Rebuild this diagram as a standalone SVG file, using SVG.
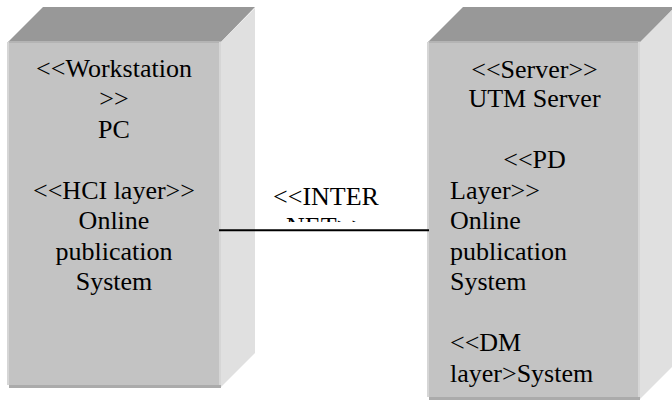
<svg xmlns="http://www.w3.org/2000/svg" width="672" height="400" viewBox="0 0 672 400">
<style>
.top{fill:#989898}
.side{fill:#e0e0e0}
.front{fill:#c3c3c3}
.edge{fill:#d6d6d6}
.topedge{fill:#b4b4b4}
.shadow{fill:#ababab}
text{font-family:"Liberation Serif","Times New Roman",serif;font-size:26px;fill:#000}
.c{text-anchor:middle}
.conn{stroke:#000;stroke-width:2;fill:none}
</style>
<defs>
<clipPath id="lblclip"><rect x="250" y="180" width="180" height="42"/></clipPath>
</defs>
<rect width="672" height="400" fill="#fff"/>
<g id="node-pc">
<polygon class="top" points="8,42 43,7 255,7 221,42"/>
<polygon class="side" points="221,42 255,8 255,353 221,387"/>
<rect class="front" x="9" y="42" width="212" height="343"/>
<rect class="topedge" x="9" y="41" width="212" height="2"/>
<rect class="edge" x="7" y="42" width="2" height="343"/>
<rect class="edge" x="219" y="42" width="2" height="343"/>
<rect class="shadow" x="9" y="385" width="212" height="3"/>
<text class="c" x="114" y="76.5">&lt;&lt;Workstation</text>
<text class="c" x="114" y="107">&gt;&gt;</text>
<text class="c" x="114" y="137.5">PC</text>
<text class="c" x="114" y="198.5">&lt;&lt;HCI layer&gt;&gt;</text>
<text class="c" x="114" y="229">Online</text>
<text class="c" x="114" y="259.5">publication</text>
<text class="c" x="114" y="290">System</text>
</g>
<g id="node-server">
<polygon class="top" points="428,42 463,7 675,7 641,42"/>
<polygon class="side" points="640,42 674,8 674,365 640,399"/>
<rect class="front" x="429" y="42" width="211" height="355"/>
<rect class="topedge" x="429" y="41" width="211" height="2"/>
<rect class="edge" x="427" y="42" width="2" height="355"/>
<rect class="edge" x="638" y="42" width="2" height="355"/>
<rect class="shadow" x="429" y="397" width="211" height="3"/>
<text class="c" x="534.5" y="77.5">&lt;&lt;Server&gt;&gt;</text>
<text class="c" x="534.5" y="107">UTM Server</text>
<text class="c" x="534.5" y="168">&lt;&lt;PD</text>
<text x="450" y="198.5">Layer&gt;&gt;</text>
<text x="450" y="229">Online</text>
<text x="450" y="259.5">publication</text>
<text x="450" y="290">System</text>
<text x="450" y="351">&lt;&lt;DM</text>
<text x="450" y="381.5">layer&gt;System</text>
</g>
<g id="connectors">
<line class="conn" x1="219" y1="230.3" x2="429" y2="230.3"/>
<g clip-path="url(#lblclip)">
<text class="c" x="326" y="205">&lt;&lt;INTER</text>
<text class="c" x="326" y="235">NET&gt;&gt;</text>
</g>
</g>
</svg>
